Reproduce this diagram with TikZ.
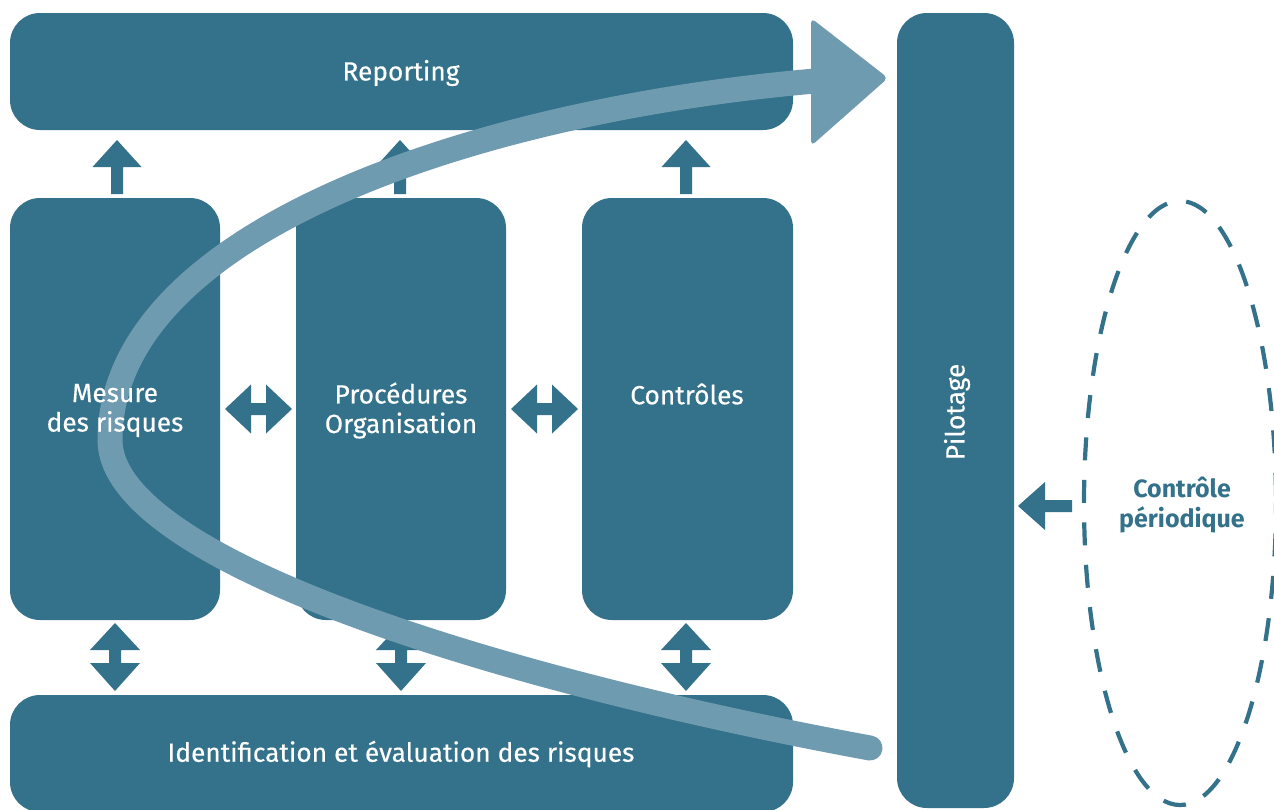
\documentclass[tikz,border=0pt]{standalone}
\usepackage{fontspec}
\setmainfont{Fira Sans}
\newfontfamily\medf[FakeBold=0.35]{Fira Sans}
\definecolor{dark}{HTML}{33728A}
\definecolor{light}{HTML}{6F9BB0}
\begin{document}
\begin{tikzpicture}[x=1pt,y=-1pt,
  box/.style={fill=dark,rounded corners=30pt,inner sep=0pt},
  lbl/.style={text=white,font=\medf\fontsize{26.3}{29.5}\selectfont,align=center,inner sep=0pt},
  uparrow/.pic={\fill[dark] (0,0) -- (24.5,27) -- (6,27) -- (6,54) -- (-6,54) -- (-6,27) -- (-24.5,27) -- cycle;},
  vdouble/.pic={\fill[dark] (0,0) -- (25,27) -- (6,27) -- (6,40) -- (25,40) -- (0,68) -- (-25,40) -- (-6,40) -- (-6,27) -- (-25,27) -- cycle;},
  hdouble/.pic={\fill[dark] (0,0) -- (26,-24.5) -- (26,-6) -- (41,-6) -- (41,-24.5) -- (67,0) -- (41,24.5) -- (41,6) -- (26,6) -- (26,24.5) -- cycle;},
  leftarrow/.pic={\fill[dark] (0,0) -- (27,-24) -- (27,-6) -- (54,-6) -- (54,6) -- (27,6) -- (27,24) -- cycle;}
]
\clip (0,0) rectangle (1274,809);
\fill[white] (0,0) rectangle (1274,809);
% boxes
\node[box,minimum width=783pt,minimum height=117pt] (rep) at (401.5,71.5) {};
\node[box,minimum width=117pt,minimum height=795pt] (pil) at (955.5,410.5) {};
\node[box,minimum width=210pt,minimum height=422pt] (mes) at (115,409) {};
\node[box,minimum width=210pt,minimum height=422pt] (pro) at (401,409) {};
\node[box,minimum width=211pt,minimum height=422pt] (con) at (687.5,409) {};
\node[box,minimum width=783pt,minimum height=117pt] (ide) at (401.5,753.5) {};
% block arrows
\pic at (117,140) {uparrow};
\pic at (400,140) {uparrow};
\pic at (686,140) {uparrow};
\pic at (115,623) {vdouble};
\pic at (401,623) {vdouble};
\pic at (686,623) {vdouble};
\pic at (225,409) {hdouble};
\pic at (511,409) {hdouble};
\pic at (1018,506) {leftarrow};
% dashed ellipse
\draw[dark,line width=4.2pt,dash pattern=on 23pt off 19.5pt,dash phase=12pt] (1180,503) ellipse [x radius=96, y radius=302];
% curved arrow
\coordinate (cs) at (870,748);
\coordinate (cm) at (110,440);
\coordinate (ce) at (815,81);
\draw[light,line width=25pt,line cap=round] (cs) .. controls (500,680) and (110,560) .. (cm) .. controls (110,230) and (480,110) .. (ce);
\fill[light,rounded corners=5pt] (811,18) -- (888,78) -- (811,146) -- cycle;
% labels
\node[lbl] (trep) at (401,73) {Reporting};
\node[lbl] (tmes) at (115,410.5) {Mesure\\des risques};
\node[lbl] (tpro) at (401,410.5) {Procédures\\Organisation};
\node[lbl] (tcon) at (687,394) {Contrôles};
\node[lbl] (tide) at (401,754) {Identification et évaluation des risques};
\node[lbl,rotate=90] (tpil) at (957,412) {Pilotage};
\node[lbl,text=dark,font=\fontsize{25}{29.5}\selectfont\bfseries] (tcp) at (1182,505) {Contrôle\\périodique};
\end{tikzpicture}
\end{document}
